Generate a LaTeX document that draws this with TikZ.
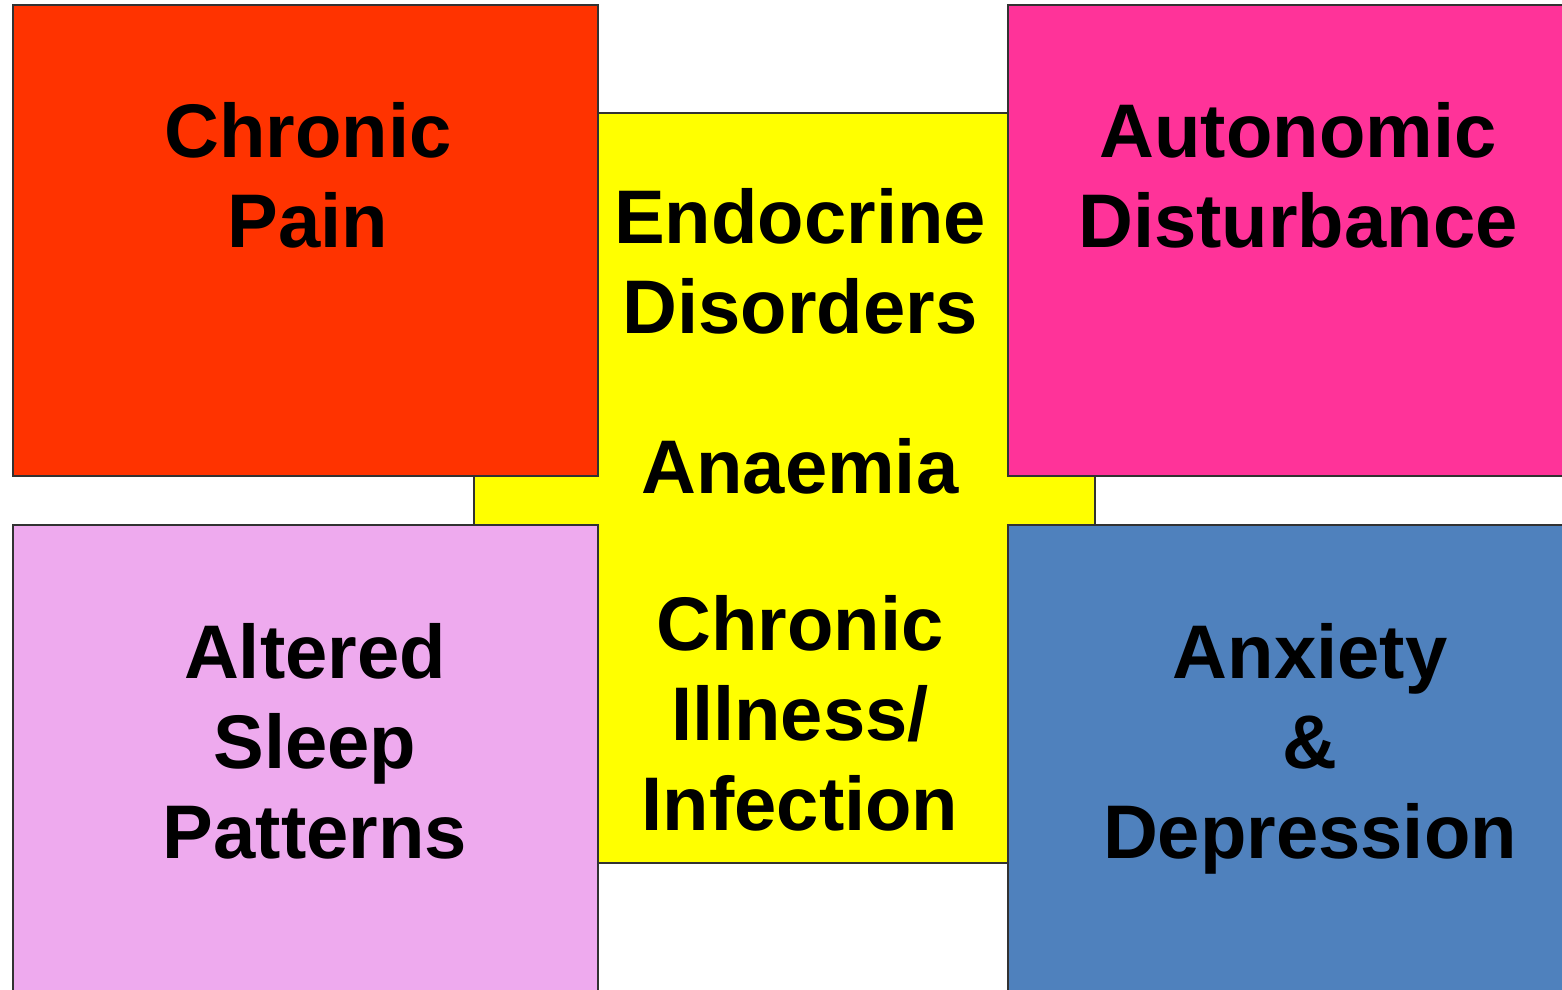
\documentclass[tikz,border=0pt]{standalone}
\usepackage{fontspec}
\setmainfont{Liberation Sans}
\definecolor{cpred}{RGB}{255,51,0}
\definecolor{adpink}{RGB}{255,51,153}
\definecolor{cyellow}{RGB}{255,255,0}
\definecolor{slav}{RGB}{238,170,238}
\definecolor{adblue}{RGB}{79,129,189}
\definecolor{edge}{RGB}{50,50,50}
\begin{document}
\begin{tikzpicture}[x=1pt,y=-1pt,
  panel/.style={draw=edge,line width=1.5pt},
  lbl/.style={font=\fontsize{76}{90}\selectfont\bfseries,align=center,inner sep=0pt,anchor=north,text=black}]
\clip (0,0) rectangle (1562,989);
\fill[white] (0,0) rectangle (1562,989);
% central yellow cross
\filldraw[panel,fill=cyellow] (474,113) rectangle (1095,863);
% corner panels
\filldraw[panel,fill=cpred] (13,5) rectangle (598,476);
\filldraw[panel,fill=adpink] (1008,5) rectangle (1600,476);
\filldraw[panel,fill=slav] (13,525) rectangle (598,1020);
\filldraw[panel,fill=adblue] (1008,525) rectangle (1600,1020);
% labels
\node[lbl] (pain) at (308,102) {Chronic\\Pain};
\node[lbl] (auto) at (1298,102) {Autonomic\\Disturbance};
\node[lbl] (endo) at (800,188) {Endocrine\\Disorders};
\node[lbl] (anae) at (800,438) {Anaemia};
\node[lbl] (ill) at (800,595) {Chronic\\Illness/\\Infection};
\node[lbl] (sleep) at (315,623) {Altered\\Sleep\\Patterns};
\node[lbl] (anx) at (1310,623) {Anxiety\\\&\\Depression};
\end{tikzpicture}
\end{document}
